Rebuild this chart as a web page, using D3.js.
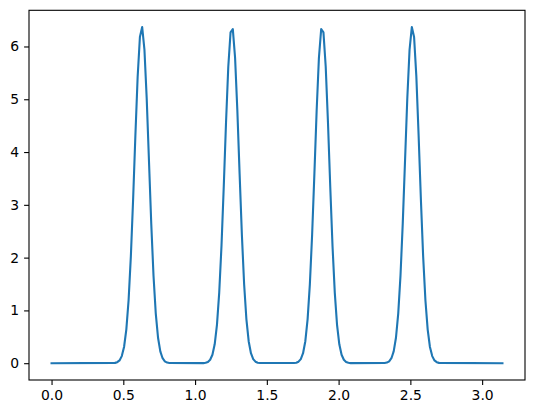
<!DOCTYPE html>
<html>
<head>
<meta charset="utf-8">
<script src="https://cdn.jsdelivr.net/npm/d3@7"></script>
<style>
  body { margin: 0; background: #fff; }
  text { font-family: "DejaVu Sans", sans-serif; font-size: 13.9px; fill: #000; }
  .axis path, .axis line { stroke: #000; stroke-width: 1.1; }
  .curve { fill: none; stroke: #1f77b4; stroke-width: 2.1; stroke-linejoin: round; stroke-linecap: square; }
</style>
</head>
<body>
<script>
var peak1X = [0.44203, 0.45782, 0.47360, 0.48939, 0.50518, 0.52096, 0.53675, 0.55254, 0.56832,
  0.58411, 0.59990, 0.61568, 0.63147, 0.64726, 0.66304, 0.67883, 0.69462, 0.71041, 0.72619,
  0.74198, 0.75777, 0.77355, 0.78934, 0.80513, 0.82091];
var peak1Y = [0.006, 0.019, 0.053, 0.134, 0.307, 0.636, 1.192, 2.023, 3.106,
  4.315, 5.428, 6.180, 6.367, 5.938, 5.013, 3.830, 2.648, 1.658, 0.939,
  0.482, 0.223, 0.094, 0.036, 0.012, 0.004];

var peak2X = [1.05772, 1.07350, 1.08929, 1.10508, 1.12086, 1.13665, 1.15244, 1.16822, 1.18401,
  1.19980, 1.21558, 1.23137, 1.24716, 1.26294, 1.27873, 1.29452, 1.31030, 1.32609, 1.34188,
  1.35766, 1.37345, 1.38924, 1.40502, 1.42081, 1.43660, 1.45238];
var peak2Y = [0.002, 0.008, 0.024, 0.065, 0.160, 0.358, 0.727, 1.336, 2.221,
  3.344, 4.554, 5.615, 6.266, 6.330, 5.787, 4.788, 3.587, 2.432, 1.492,
  0.829, 0.417, 0.189, 0.078, 0.029, 0.010, 0.003];

var peak3X = [1.68921, 1.70499, 1.72078, 1.73657, 1.75235, 1.76814, 1.78393, 1.79971, 1.81550,
  1.83129, 1.84707, 1.86286, 1.87865, 1.89443, 1.91022, 1.92601, 1.94179, 1.95758, 1.97337,
  1.98915, 2.00494, 2.02073, 2.03651, 2.05230, 2.06809, 2.08387];
var peak3Y = [0.003, 0.010, 0.029, 0.078, 0.189, 0.417, 0.829, 1.492, 2.432,
  3.587, 4.788, 5.787, 6.330, 6.266, 5.615, 4.554, 3.344, 2.221, 1.336,
  0.727, 0.358, 0.160, 0.065, 0.024, 0.008, 0.002];

var peak4X = [2.32068, 2.33646, 2.35225, 2.36804, 2.38382, 2.39961, 2.41540, 2.43118, 2.44697,
  2.46276, 2.47854, 2.49433, 2.51012, 2.52591, 2.54169, 2.55748, 2.57327, 2.58905, 2.60484,
  2.62063, 2.63641, 2.65220, 2.66799, 2.68377, 2.69956];
var peak4Y = [0.004, 0.012, 0.036, 0.094, 0.223, 0.482, 0.939, 1.658, 2.648,
  3.830, 5.013, 5.938, 6.367, 6.180, 5.428, 4.315, 3.106, 2.023, 1.192,
  0.636, 0.307, 0.134, 0.053, 0.019, 0.006];

// flat ends of the curve
var startX = 0, endX = 3.14159;

var xTicks = [0, 0.5, 1.0, 1.5, 2.0, 2.5, 3.0];
var yTicks = [0, 1, 2, 3, 4, 5, 6];

var w = 534;
var h = 413;
var margin = { left: 29, top: 10.3, right: 9, bottom: 33 };
var plotW = w - margin.left - margin.right;
var plotH = h - margin.top - margin.bottom;

var svg = d3.select("body").append("svg")
  .attr("width", w)
  .attr("height", h);

// build the full curve from the peaks
var points = [{ x: startX, y: 0 }];
[[peak1X, peak1Y], [peak2X, peak2Y], [peak3X, peak3Y], [peak4X, peak4Y]].forEach(function (p) {
  p[0].forEach(function (xv, i) { points.push({ x: xv, y: p[1][i] }); });
});
points.push({ x: endX, y: 0 });

// matplotlib style 5% margins
var xMin = d3.min(points, d => d.x), xMax = d3.max(points, d => d.x);
var yMin = d3.min(points, d => d.y), yMax = d3.max(points, d => d.y);
var xPad = (xMax - xMin) * 0.05, yPad = (yMax - yMin) * 0.05;

var x = d3.scaleLinear()
  .domain([xMin - xPad, xMax + xPad])
  .range([margin.left, margin.left + plotW]);

var y = d3.scaleLinear()
  .domain([yMin - yPad, yMax + yPad])
  .range([margin.top + plotH, margin.top]);

// Curve
svg.append("path")
  .datum(points)
  .attr("class", "curve")
  .attr("d", d3.line().x(d => x(d.x)).y(d => y(d.y)));

// Axes
var xAxis = svg.append("g")
  .attr("class", "axis")
  .attr("transform", "translate(0," + (margin.top + plotH) + ")")
  .call(d3.axisBottom(x).tickValues(xTicks).tickFormat(d3.format(".1f")).tickSize(4.9).tickPadding(5.5));
xAxis.select(".domain").remove();
xAxis.selectAll("text").attr("font-size", null);

var yAxis = svg.append("g")
  .attr("class", "axis")
  .attr("transform", "translate(" + margin.left + ",0)")
  .call(d3.axisLeft(y).tickValues(yTicks).tickFormat(d3.format("d")).tickSize(4.9).tickPadding(4.9));
yAxis.select(".domain").remove();

svg.selectAll(".axis").attr("font-family", null).attr("font-size", null);

// Frame
svg.append("rect")
  .attr("x", margin.left)
  .attr("y", margin.top)
  .attr("width", plotW)
  .attr("height", plotH)
  .attr("fill", "none")
  .attr("stroke", "#000")
  .attr("stroke-width", 1.1);
</script>
</body>
</html>
